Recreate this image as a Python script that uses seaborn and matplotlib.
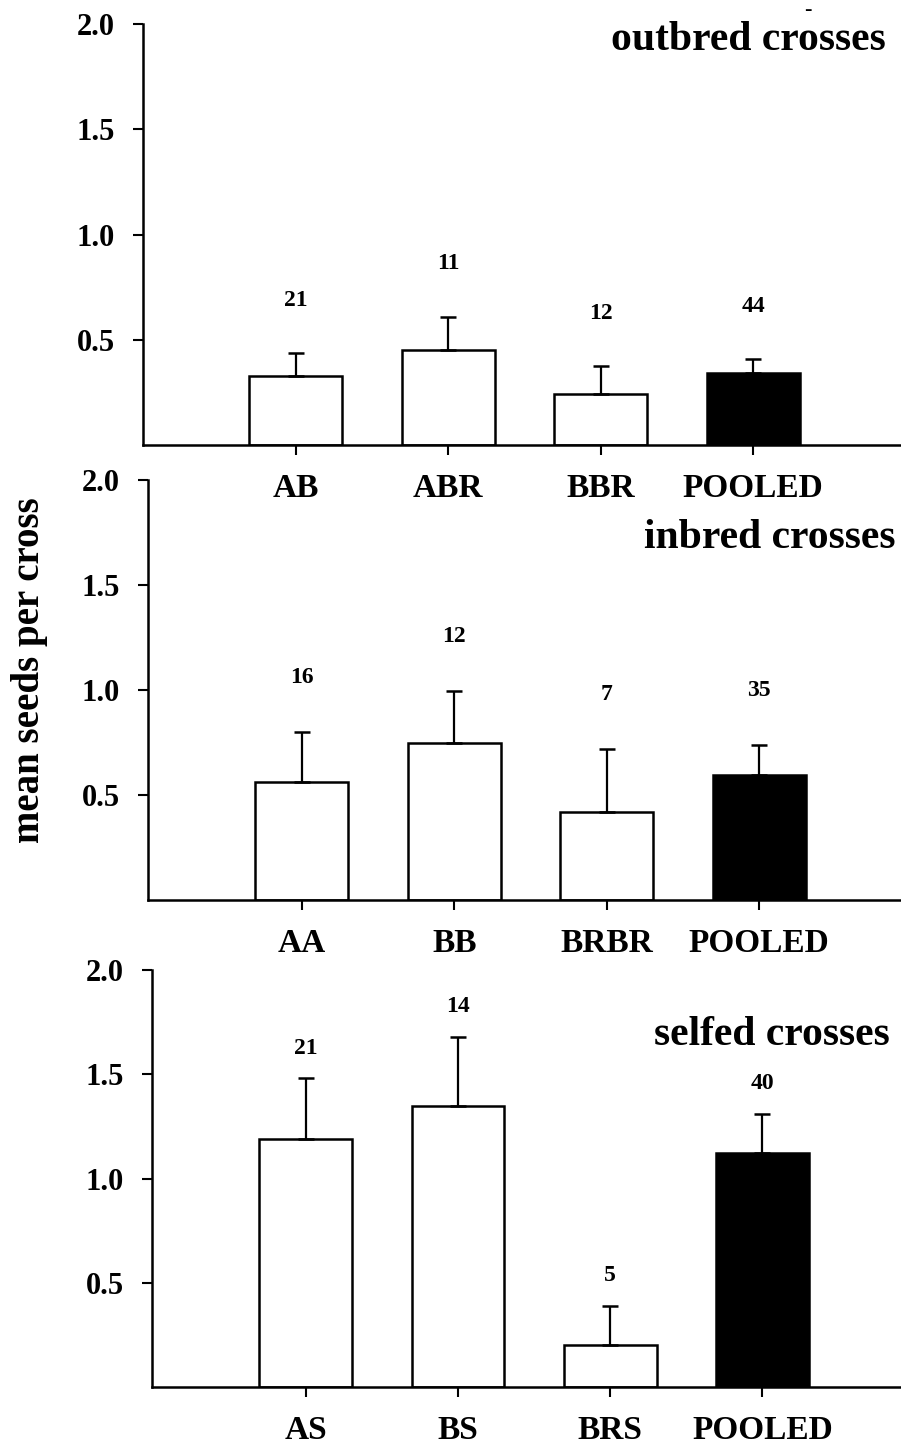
import numpy as np
import pandas as pd
import seaborn as sns
import matplotlib.pyplot as plt

# Mean seeds per cross (± SE, upper arm only) and number of crosses
outbred_cats = ["AB", "ABR", "BBR", "POOLED"]
outbred_mean = [0.33, 0.45, 0.24, 0.34]
outbred_se = [0.107, 0.16, 0.135, 0.07]
outbred_n = [21, 11, 12, 44]

inbred_cats = ["AA", "BB", "BRBR", "POOLED"]
inbred_mean = [0.56, 0.75, 0.42, 0.595]
inbred_se = [0.24, 0.245, 0.30, 0.145]
inbred_n = [16, 12, 7, 35]

selfed_cats = ["AS", "BS", "BRS", "POOLED"]
selfed_mean = [1.19, 1.35, 0.20, 1.12]
selfed_se = [0.29, 0.33, 0.19, 0.19]
selfed_n = [21, 14, 5, 40]

y_ticks = [0.5, 1.0, 1.5, 2.0]
y_ticklabels = ["0.5", "1.0", "1.5", "2.0"]

sns.set_theme(style="ticks")
plt.rcParams["font.family"] = ["Liberation Serif", "DejaVu Serif"]
plt.rcParams["font.weight"] = "bold"
plt.rcParams["text.color"] = "black"
plt.rcParams["axes.labelcolor"] = "black"
plt.rcParams["xtick.color"] = "black"
plt.rcParams["ytick.color"] = "black"

W, H = 901, 1445
fig = plt.figure(figsize=(W / 100, H / 100), dpi=100)
fig.patch.set_facecolor("white")

panels = [
    dict(cats=outbred_cats, mean=outbred_mean, se=outbred_se, n=outbred_n,
         title="outbred crosses", left=143, top=24, bottom=445,
         xlim=(-1.0, 3.97), tx=886, ty=40, n_off=0.25),
    dict(cats=inbred_cats, mean=inbred_mean, se=inbred_se, n=inbred_n,
         title="inbred crosses", left=148, top=480, bottom=900,
         xlim=(-1.01, 3.93), tx=896, ty=538, n_off=0.26),
    dict(cats=selfed_cats, mean=selfed_mean, se=selfed_se, n=selfed_n,
         title="selfed crosses", left=152, top=970, bottom=1387,
         xlim=(-1.01, 3.91), tx=890, ty=1035, n_off=0.145),
]

for p in panels:
    ax = fig.add_axes([p["left"] / W, 1 - p["bottom"] / H,
                       (W - p["left"]) / W, (p["bottom"] - p["top"]) / H])
    ax.set_facecolor("none")
    df = pd.DataFrame({"cross": p["cats"], "seeds": p["mean"]})
    colors = {c: ("black" if c == "POOLED" else "white") for c in p["cats"]}
    sns.barplot(data=df, x="cross", y="seeds", hue="cross", palette=colors,
                legend=False, edgecolor="black", linewidth=1.8, width=0.61,
                errorbar=None, ax=ax, saturation=1)
    xs = np.arange(len(p["cats"]))
    ax.errorbar(xs, p["mean"], yerr=[np.zeros(len(xs)), p["se"]], fmt="none",
                ecolor="black", elinewidth=1.6, capsize=6, capthick=1.8, zorder=3)
    for x, m, s, n in zip(xs, p["mean"], p["se"], p["n"]):
        ax.text(x, m + s + p["n_off"], str(n), ha="center", va="center",
                fontsize=17, fontweight="bold", color="black")
    ax.set_xlim(*p["xlim"])
    ax.set_ylim(0, 2.0)
    ax.set_yticks(y_ticks)
    ax.set_yticklabels(y_ticklabels, fontsize=22, fontweight="bold")
    ax.set_xticks(xs)
    ax.set_xticklabels(p["cats"], fontsize=24, fontweight="bold")
    ax.set_xlabel("")
    ax.set_ylabel("")
    ax.tick_params(axis="both", direction="out", length=7, width=1.5,
                   color="black", labelcolor="black")
    ax.tick_params(axis="y", pad=13)
    ax.tick_params(axis="x", pad=13)
    for side in ("top", "right"):
        ax.spines[side].set_visible(False)
    for side in ("left", "bottom"):
        ax.spines[side].set_linewidth(1.8)
        ax.spines[side].set_color("black")
    fig.text(p["tx"] / W, 1 - p["ty"] / H, p["title"], ha="right", va="center",
             fontsize=30, fontweight="bold", color="black")

fig.text(30 / W, 1 - 670 / H, "mean seeds per cross", rotation=90,
         ha="center", va="center", fontsize=28, fontweight="bold", color="black")
fig.text(808 / W, 1 - 10 / H, "-", ha="center", va="center",
         fontsize=16, fontweight="bold", color="black")

fig.savefig("out.png", dpi=100, facecolor="white")
